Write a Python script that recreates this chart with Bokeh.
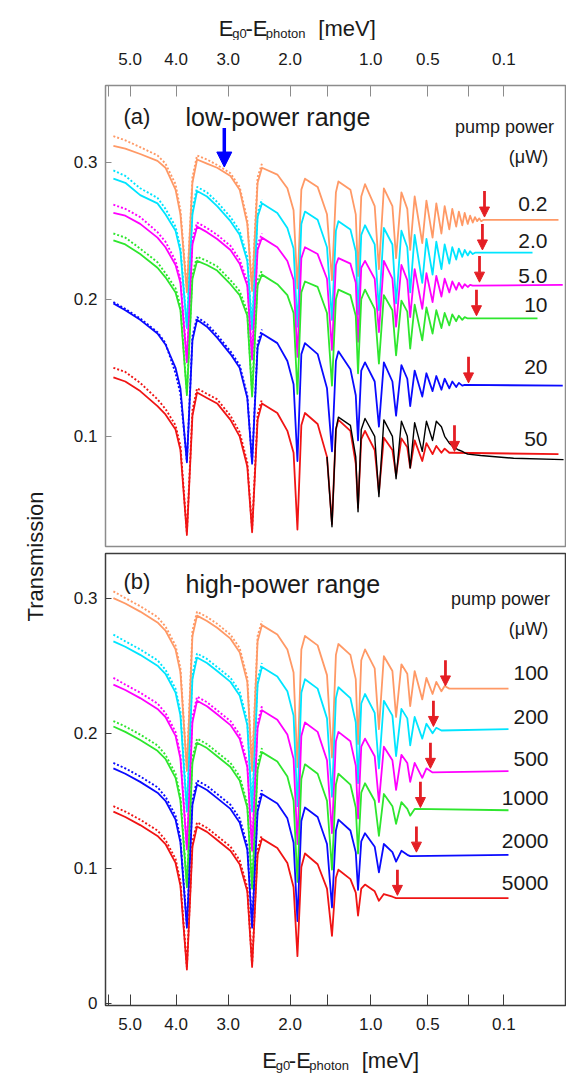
import math
from bokeh.plotting import figure
from bokeh.models import Range1d, FixedTicker, Label, Arrow, NormalHead
from bokeh.layouts import row, column
from bokeh.embed import file_html
from bokeh.resources import INLINE

FONT = "Liberation Sans"

# ---------------- data ----------------
# E_g0 - E_photon [meV] at the sample points
E_GRID = [5.39, 5.11, 4.77, 4.39, 4.22, 4.01, 3.91, 3.78, 3.67, 3.58,
          3.39, 3.20, 2.96, 2.80, 2.67, 2.59, 2.50, 2.43, 2.19, 2.04,
          1.95, 1.895, 1.84, 1.79, 1.62, 1.50, 1.438, 1.39, 1.36, 1.22,
          1.16, 1.135, 1.10, 1.06, 0.96, 0.918, 0.87, 0.79, 0.757, 0.71,
          0.66, 0.636, 0.60, 0.541, 0.51, 0.466, 0.44, 0.406, 0.385, 0.356,
          0.338, 0.315, 0.300, 0.281, 0.268, 0.252, 0.240, 0.227, 0.216, 0.206,
          0.196, 0.187, 0.177]

X_TICKS = [5.0, 4.0, 3.0, 2.0, 1.0, 0.5, 0.1]
X_TICK_LABELS = ["5.0", "4.0", "3.0", "2.0", "1.0", "0.5", "0.1"]
X_MINOR = [5.5, 1.5, 0.25]
E_LEFT = 5.58

# ---- panel (a): low-power range, transmission ----
A_P02 = [0.312, 0.310, 0.306, 0.301, 0.296, 0.280, 0.262, 0.205, 0.285, 0.302,
         0.299, 0.296, 0.290, 0.280, 0.255, 0.206, 0.285, 0.296, 0.291, 0.281,
         0.265, 0.208, 0.280, 0.288, 0.282, 0.262, 0.214, 0.278, 0.286, 0.280,
         0.262, 0.217, 0.275, 0.284, 0.268, 0.222, 0.281, 0.268, 0.230, 0.278,
         0.266, 0.236, 0.275, 0.241, 0.272, 0.245, 0.270, 0.248, 0.268, 0.251,
         0.266, 0.253, 0.264, 0.254, 0.263, 0.255, 0.261, 0.256, 0.260, 0.257,
         0.259, 0.257, 0.258]
A_P2 = [0.288, 0.285, 0.276, 0.270, 0.262, 0.250, 0.235, 0.179, 0.262, 0.279,
        0.275, 0.268, 0.257, 0.247, 0.228, 0.178, 0.260, 0.270, 0.263, 0.252,
        0.237, 0.180, 0.255, 0.264, 0.258, 0.238, 0.185, 0.250, 0.257, 0.251,
        0.235, 0.189, 0.247, 0.254, 0.240, 0.192, 0.252, 0.240, 0.197, 0.250,
        0.238, 0.205, 0.247, 0.212, 0.244, 0.218, 0.242, 0.222, 0.240, 0.226,
        0.238, 0.229, 0.237, 0.231, 0.236, 0.232, 0.235, 0.233, 0.234]
A_P5 = [0.263, 0.261, 0.255, 0.245, 0.238, 0.225, 0.212, 0.154, 0.240, 0.253,
        0.249, 0.244, 0.236, 0.226, 0.210, 0.156, 0.236, 0.245, 0.238, 0.228,
        0.214, 0.158, 0.230, 0.238, 0.233, 0.215, 0.163, 0.225, 0.230, 0.226,
        0.212, 0.169, 0.223, 0.228, 0.215, 0.176, 0.228, 0.215, 0.180, 0.225,
        0.214, 0.187, 0.222, 0.193, 0.219, 0.198, 0.217, 0.202, 0.215, 0.205,
        0.213, 0.207, 0.212, 0.208, 0.211, 0.209, 0.2105, 0.210]
A_P10 = [0.243, 0.240, 0.233, 0.223, 0.216, 0.205, 0.192, 0.130, 0.215, 0.228,
         0.225, 0.221, 0.211, 0.203, 0.188, 0.129, 0.210, 0.218, 0.211, 0.203,
         0.190, 0.131, 0.205, 0.213, 0.209, 0.190, 0.137, 0.200, 0.207, 0.203,
         0.188, 0.146, 0.200, 0.207, 0.193, 0.153, 0.203, 0.192, 0.159, 0.199,
         0.191, 0.164, 0.196, 0.170, 0.194, 0.175, 0.192, 0.179, 0.190, 0.181,
         0.189, 0.184, 0.188, 0.185, 0.187, 0.186]
A_P20 = [0.197, 0.192, 0.185, 0.175, 0.167, 0.150, 0.135, 0.081, 0.170, 0.185,
         0.180, 0.172, 0.160, 0.150, 0.128, 0.080, 0.165, 0.175, 0.168, 0.155,
         0.138, 0.082, 0.160, 0.168, 0.160, 0.135, 0.089, 0.155, 0.162, 0.149,
         0.130, 0.097, 0.148, 0.154, 0.140, 0.107, 0.154, 0.140, 0.115, 0.152,
         0.142, 0.122, 0.148, 0.129, 0.146, 0.133, 0.144, 0.134, 0.142, 0.135,
         0.140, 0.136, 0.139, 0.137, 0.1375]
A_P50 = [0.143, 0.140, 0.133, 0.122, 0.116, 0.105, 0.090, 0.028, 0.115, 0.132,
         0.128, 0.124, 0.112, 0.100, 0.078, 0.030, 0.112, 0.124, 0.117, 0.104,
         0.088, 0.032, 0.108, 0.117, 0.109, 0.085, 0.036, 0.105, 0.112, 0.104,
         0.080, 0.048, 0.098, 0.104, 0.090, 0.059, 0.099, 0.090, 0.0715, 0.0985,
         0.092, 0.077, 0.097, 0.082, 0.095, 0.087, 0.093, 0.088, 0.091, 0.088,
         0.088]
A_TAIL_T = [0.258, 0.234, 0.2105, 0.186, 0.137, 0.087]
A_TAIL_E = [0.0013, 0.0287, 0.0002, 0.0207, 0.0002, 0.0013]
A_ARROW_E = [0.173, 0.182, 0.195, 0.209, 0.248, 0.325]
A_POWERS = ["0.2", "2.0", "5.0", "10", "20", "50"]

# second (dotted) measurement, start of the spectra
A_P02_D = [0.319, 0.316, 0.311, 0.305, 0.299, 0.284, 0.265, 0.207, 0.289, 0.305,
           0.302, 0.298, 0.292, 0.282, 0.258, 0.208, 0.289, 0.299]
A_P2_D = [0.294, 0.290, 0.281, 0.274, 0.266, 0.253, 0.238, 0.181, 0.266, 0.282,
          0.278, 0.271, 0.260, 0.250, 0.231, 0.180, 0.263, 0.273]
A_P5_D = [0.269, 0.266, 0.260, 0.249, 0.242, 0.228, 0.215, 0.156, 0.244, 0.256,
          0.252, 0.247, 0.239, 0.229, 0.213, 0.158, 0.240, 0.248]
A_P10_D = [0.248, 0.245, 0.237, 0.227, 0.219, 0.208, 0.195, 0.132, 0.219, 0.231,
           0.228, 0.224, 0.214, 0.206, 0.191, 0.131, 0.214, 0.221]
A_P20_D = [0.198, 0.193, 0.186, 0.176, 0.168, 0.146, 0.131, 0.082, 0.173, 0.187,
           0.182, 0.174, 0.162, 0.152, 0.130, 0.081, 0.168, 0.178]
A_P50_D = [0.150, 0.147, 0.139, 0.127, 0.120, 0.108, 0.093, 0.030, 0.119, 0.135,
           0.131, 0.127, 0.115, 0.103, 0.081, 0.032, 0.116, 0.127]

# calculated spectrum for 50 uW (black), from grid point 25 on
BLACK_START = 25
A_CALC50 = [0.085, 0.034, 0.105, 0.114, 0.108, 0.085, 0.045, 0.105, 0.113, 0.100,
            0.056, 0.112, 0.100, 0.069, 0.111, 0.100, 0.077, 0.110, 0.089, 0.111,
            0.097, 0.111, 0.107, 0.100, 0.095, 0.093, 0.091, 0.090, 0.089, 0.088,
            0.087]
CALC_TAIL_E = [0.19, 0.071, 0.0001]
CALC_TAIL_T = [0.086, 0.084, 0.083]

BLUE_ARROW_E = 3.07
BLUE_ARROW_T = [0.325, 0.2965]

# ---- panel (b): high-power range ----
B_P100 = [0.300, 0.296, 0.290, 0.282, 0.276, 0.262, 0.245, 0.172, 0.272, 0.287,
          0.283, 0.278, 0.270, 0.260, 0.238, 0.172, 0.268, 0.280, 0.273, 0.262,
          0.245, 0.175, 0.262, 0.272, 0.265, 0.243, 0.182, 0.258, 0.266, 0.258,
          0.240, 0.192, 0.254, 0.262, 0.248, 0.203, 0.257, 0.246, 0.212, 0.251,
          0.244, 0.220, 0.246, 0.225, 0.241, 0.229, 0.238, 0.231, 0.235, 0.233]
B_P200 = [0.268, 0.264, 0.258, 0.250, 0.244, 0.230, 0.213, 0.142, 0.240, 0.256,
          0.252, 0.246, 0.238, 0.228, 0.206, 0.142, 0.236, 0.249, 0.242, 0.231,
          0.213, 0.146, 0.230, 0.240, 0.233, 0.211, 0.153, 0.226, 0.234, 0.226,
          0.208, 0.163, 0.222, 0.229, 0.215, 0.174, 0.224, 0.213, 0.183, 0.218,
          0.211, 0.191, 0.212, 0.196, 0.207, 0.200, 0.204, 0.202]
B_P500 = [0.236, 0.232, 0.226, 0.218, 0.212, 0.198, 0.181, 0.114, 0.208, 0.224,
          0.220, 0.214, 0.206, 0.196, 0.175, 0.113, 0.204, 0.217, 0.210, 0.199,
          0.181, 0.118, 0.198, 0.208, 0.201, 0.180, 0.126, 0.194, 0.201, 0.194,
          0.176, 0.137, 0.190, 0.196, 0.183, 0.149, 0.190, 0.180, 0.158, 0.184,
          0.178, 0.164, 0.178, 0.167, 0.174, 0.171]
B_P1000 = [0.205, 0.201, 0.195, 0.187, 0.181, 0.167, 0.150, 0.086, 0.178, 0.193,
           0.189, 0.183, 0.175, 0.165, 0.145, 0.085, 0.173, 0.186, 0.179, 0.168,
           0.150, 0.090, 0.166, 0.177, 0.170, 0.150, 0.099, 0.162, 0.170, 0.162,
           0.145, 0.111, 0.156, 0.163, 0.150, 0.124, 0.155, 0.146, 0.133, 0.149,
           0.144, 0.139, 0.144]
B_P2000 = [0.174, 0.170, 0.164, 0.156, 0.150, 0.136, 0.119, 0.056, 0.147, 0.162,
           0.158, 0.152, 0.144, 0.134, 0.114, 0.056, 0.142, 0.155, 0.148, 0.137,
           0.119, 0.061, 0.135, 0.145, 0.138, 0.118, 0.071, 0.128, 0.136, 0.128,
           0.112, 0.084, 0.120, 0.126, 0.116, 0.097, 0.118, 0.112, 0.105, 0.113,
           0.110, 0.109]
B_P5000 = [0.142, 0.138, 0.132, 0.124, 0.118, 0.104, 0.087, 0.025, 0.116, 0.131,
           0.127, 0.121, 0.113, 0.103, 0.083, 0.027, 0.110, 0.122, 0.115, 0.104,
           0.086, 0.035, 0.101, 0.111, 0.103, 0.085, 0.050, 0.093, 0.099, 0.092,
           0.082, 0.065, 0.085, 0.088, 0.083, 0.076, 0.081, 0.079, 0.078]
B_TAIL_T = [0.233, 0.203, 0.172, 0.143, 0.110, 0.078]
B_TAIL_E = [0.0857, 0.0857, 0.0857, 0.0857, 0.0857, 0.0857]
B_ARROW_E = [0.380, 0.460, 0.481, 0.555, 0.586, 0.745]
B_POWERS = ["100", "200", "500", "1000", "2000", "5000"]

B_P100_D = [0.305, 0.300, 0.294, 0.286, 0.279, 0.265, 0.248, 0.174, 0.276, 0.290,
            0.286, 0.281, 0.273, 0.263, 0.241, 0.174, 0.272, 0.283]
B_P200_D = [0.273, 0.268, 0.262, 0.254, 0.247, 0.233, 0.216, 0.144, 0.244, 0.259,
            0.255, 0.249, 0.241, 0.231, 0.209, 0.144, 0.240, 0.252]
B_P500_D = [0.241, 0.236, 0.230, 0.222, 0.215, 0.201, 0.184, 0.116, 0.212, 0.227,
            0.223, 0.217, 0.209, 0.199, 0.178, 0.115, 0.208, 0.220]
B_P1000_D = [0.209, 0.205, 0.199, 0.191, 0.184, 0.170, 0.153, 0.088, 0.182, 0.196,
             0.192, 0.186, 0.178, 0.168, 0.148, 0.087, 0.177, 0.189]
B_P2000_D = [0.178, 0.174, 0.168, 0.160, 0.153, 0.139, 0.122, 0.058, 0.151, 0.165,
             0.161, 0.155, 0.147, 0.137, 0.117, 0.058, 0.146, 0.158]
B_P5000_D = [0.146, 0.142, 0.136, 0.128, 0.121, 0.107, 0.090, 0.027, 0.120, 0.134,
             0.130, 0.124, 0.116, 0.106, 0.086, 0.029, 0.114, 0.125]

COLORS = ["#ff9966", "#00e5ff", "#ff00ff", "#2ee62e", "#0a0aff", "#f01414"]
ARROW_RED = "#e41e24"
TEXT = "#1a1a1a"

# ---------------- layout helpers (page pixels -> data) ----------------
U0 = math.sqrt(E_LEFT)
FX0, FX1 = 105, 565
A_Y = (0.0196, 0.356)
A_FY = (85, 546)
B_Y = (-0.0015, 0.333)
B_FY = (553, 1005)
PANEL_W = 508
LEFT_W = 58


def px_u(xp):
    return U0 * (FX1 - xp) / (FX1 - FX0)


def py(yp, rng, fy):
    return rng[1] - (yp - fy[0]) * (rng[1] - rng[0]) / (fy[1] - fy[0])


def make_panel(height, rng, top_border, bottom_border, loc, frame_color, yticks):
    p = figure(width=PANEL_W, height=height, x_range=Range1d(U0, 0),
               y_range=Range1d(*rng), x_axis_location=loc,
               toolbar_location=None, output_backend="svg",
               min_border_left=FX0 - LEFT_W, min_border_right=1,
               min_border_top=top_border, min_border_bottom=bottom_border)
    p.xgrid.visible = False
    p.ygrid.visible = False
    p.outline_line_color = frame_color
    p.outline_line_width = 1.5
    xa = p.xaxis[0]
    xa.ticker = FixedTicker(ticks=[math.sqrt(t) for t in X_TICKS],
                            minor_ticks=[math.sqrt(t) for t in X_MINOR])
    xa.major_label_overrides = {math.sqrt(t): lab for t, lab in zip(X_TICKS, X_TICK_LABELS)}
    xa.axis_line_color = None
    xa.major_tick_in = 11
    xa.major_tick_out = 0
    xa.minor_tick_in = 11
    xa.minor_tick_out = 0
    xa.major_tick_line_color = frame_color
    xa.minor_tick_line_color = frame_color
    xa.major_label_text_font = FONT
    xa.major_label_text_font_size = "17px"
    xa.major_label_text_color = TEXT
    ya = p.yaxis[0]
    ya.ticker = FixedTicker(ticks=yticks)
    ya.major_label_overrides = {t: ("0" if t == 0 else "%.1f" % t) for t in yticks}
    ya.axis_line_color = None
    ya.major_tick_in = 6
    ya.major_tick_out = 0
    ya.major_tick_line_color = frame_color
    ya.major_label_standoff = 8
    ya.major_label_text_font = FONT
    ya.major_label_text_font_size = "17px"
    ya.major_label_text_color = TEXT
    return p


def add_text(p, xp, yp, text, size, rng, fy, align="left", baseline="middle"):
    p.add_layout(Label(x=px_u(xp), y=py(yp, rng, fy), text=text,
                       text_font=FONT, text_font_size=size, text_color=TEXT,
                       text_align=align, text_baseline=baseline))


def draw_curves(p, solids, dots, tails_t, tails_e):
    for dv, c in zip(dots, COLORS):
        xd = [math.sqrt(e) for e in E_GRID[:len(dv)]]
        p.line(xd, dv, line_color=c, line_width=1.9, line_dash="2 2")
    for vals, tt, te, c in zip(solids, tails_t, tails_e, COLORS):
        xs = [math.sqrt(e) for e in E_GRID[:len(vals)]] + [math.sqrt(te)]
        ys = list(vals) + [tt]
        p.line(xs, ys, line_color=c, line_width=1.8, line_join="round")


def add_arrows(p, arrow_e, tails_t):
    for e, t in zip(arrow_e, tails_t):
        u = math.sqrt(e)
        p.add_layout(Arrow(end=NormalHead(size=10, fill_color=ARROW_RED,
                                          line_color=ARROW_RED, line_width=1),
                           x_start=u, y_start=t + 0.021, x_end=u, y_end=t + 0.002,
                           line_color=ARROW_RED, line_width=2.8))


def text_strip(width, height, y_top, y_bot, x_left):
    # a bare strip whose data coordinates are page pixels
    f = figure(width=width, height=height, x_range=Range1d(x_left, x_left + width),
               y_range=Range1d(y_bot, y_top), toolbar_location=None,
               output_backend="svg", min_border=0, x_axis_type=None, y_axis_type=None)
    f.outline_line_color = None
    f.xgrid.visible = False
    f.ygrid.visible = False
    return f


def add_title(f, x0, base):
    # E_g0 - E_photon  [meV]  with subscripts
    parts = [("E", "22px", 0, 0), ("g0", "13px", 15, 5), ("-E", "22px", 29.5, 0),
             ("photon", "13px", 52, 5), ("[meV]", "22px", 110, 0)]
    for txt, size, dx, dy in parts:
        f.add_layout(Label(x=x0 + dx, y=base + dy, text=txt, text_font=FONT,
                           text_font_size=size, text_color=TEXT,
                           text_align="left", text_baseline="alphabetic"))


TOP_H = 40
A_H = A_FY[1] + 3 - TOP_H
B_TOP = A_FY[1] + 3
B_H = B_FY[1] + 36 - B_TOP
BOT_TOP = B_TOP + B_H
BOT_H = 1075 - BOT_TOP

# ---------------- top title strip ----------------
ftop = text_strip(PANEL_W, TOP_H, 0, TOP_H, LEFT_W)
add_title(ftop, 183, 28)

# ---------------- panel (a) ----------------
fa = make_panel(A_H, A_Y, A_FY[0] - TOP_H, 3, "above", "#8c8c8c", [0.1, 0.2, 0.3])
fa.xaxis[0].major_label_standoff = 21
draw_curves(fa, [A_P02, A_P2, A_P5, A_P10, A_P20, A_P50],
            [A_P02_D, A_P2_D, A_P5_D, A_P10_D, A_P20_D, A_P50_D],
            A_TAIL_T, A_TAIL_E)
bx = [math.sqrt(e) for e in E_GRID[BLACK_START:BLACK_START + len(A_CALC50)]]
bx += [math.sqrt(e) for e in CALC_TAIL_E]
fa.line(bx, list(A_CALC50) + CALC_TAIL_T, line_color="black", line_width=1.4,
        line_join="round")
add_arrows(fa, A_ARROW_E, A_TAIL_T)
ub = math.sqrt(BLUE_ARROW_E)
fa.add_layout(Arrow(end=NormalHead(size=15, fill_color="#0000ff", line_color="#0000ff",
                                   line_width=1),
                    x_start=ub, y_start=BLUE_ARROW_T[0], x_end=ub, y_end=BLUE_ARROW_T[1],
                    line_color="#0000ff", line_width=3.5))

add_text(fa, 123, 116, "(a)", "22px", A_Y, A_FY)
add_text(fa, 185, 116, "low-power range", "25px", A_Y, A_FY)
add_text(fa, 504, 126, "pump power", "18px", A_Y, A_FY, align="center")
add_text(fa, 528, 156, "(\u03bcW)", "18px", A_Y, A_FY, align="center")
for lab, yp in zip(A_POWERS, [203, 240, 275, 304, 366, 438]):
    add_text(fa, 547, yp, lab, "21px", A_Y, A_FY, align="right")

# ---------------- panel (b) ----------------
fb = make_panel(B_H, B_Y, B_FY[0] - B_TOP, 36, "below", "#3c3c3c", [0.0, 0.1, 0.2, 0.3])
fb.xaxis[0].major_label_standoff = 12
draw_curves(fb, [B_P100, B_P200, B_P500, B_P1000, B_P2000, B_P5000],
            [B_P100_D, B_P200_D, B_P500_D, B_P1000_D, B_P2000_D, B_P5000_D],
            B_TAIL_T, B_TAIL_E)
add_arrows(fb, B_ARROW_E, B_TAIL_T)
add_text(fb, 123, 581, "(b)", "22px", B_Y, B_FY)
add_text(fb, 185, 583, "high-power range", "25px", B_Y, B_FY)
add_text(fb, 500, 598, "pump power", "18px", B_Y, B_FY, align="center")
add_text(fb, 528, 628, "(\u03bcW)", "18px", B_Y, B_FY, align="center")
for lab, yp in zip(B_POWERS, [672, 716, 758, 797, 840, 882]):
    add_text(fb, 548, yp, lab, "21px", B_Y, B_FY, align="right")

# ---------------- bottom title strip ----------------
fbot = text_strip(PANEL_W, BOT_H, BOT_TOP, BOT_TOP + BOT_H, LEFT_W)
add_title(fbot, 231, 1060)

# ---------------- shared y label ----------------
ft = text_strip(LEFT_W, 1075, 0, 1075, 0)
ft.add_layout(Label(x=35, y=556, text="Transmission", angle=math.pi / 2,
                    text_font=FONT, text_font_size="22px", text_color=TEXT,
                    text_align="center", text_baseline="middle"))

layout = row(ft, column(ftop, fa, fb, fbot))
open("out.html", "w").write(file_html(layout, INLINE))
